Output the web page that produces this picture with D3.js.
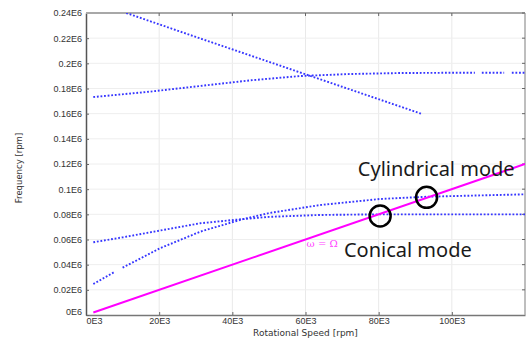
<!DOCTYPE html>
<html>
<head>
<meta charset="utf-8">
<script src="https://cdn.jsdelivr.net/npm/d3@7"></script>
<style>
  body { margin: 0; background: #fff; }
  svg { display: block; font-family: "DejaVu Sans", sans-serif; }
</style>
</head>
<body>
<svg id="chart" width="526" height="338"></svg>
<script>
// tick labels
var xTicks = [0, 20000, 40000, 60000, 80000, 100000];
var xTickLabels = ['0E3', '20E3', '40E3', '60E3', '80E3', '100E3'];
var yTicks = [0, 20000, 40000, 60000, 80000, 100000, 120000, 140000, 160000, 180000, 200000, 220000, 240000];
var yTickLabels = ['0E6', '0.02E6', '0.04E6', '0.06E6', '0.08E6', '0.1E6', '0.12E6', '0.14E6', '0.16E6', '0.18E6', '0.2E6', '0.22E6', '0.24E6'];

// whirl frequency branches (rpm vs rpm), null = gap in dotted curve
var modeAx = [11000, 30000, 50000, 70000, 91600];
var modeAy = [240000, 221000, 201200, 181400, 160000];

var modeBx = [2000, 17500, 31200, 45000, 58500, 72000, 86000, 100000, 106300, 107200, 108200, 114300, 115300, 116400, 120000];
var modeBy = [173200, 177500, 182000, 186500, 189900, 191500, 192300, 192500, 192500, null, 192500, 192500, null, 192500, 192500];

var modeCx = [2000, 10000, 20000, 31200, 42000, 50000, 64000, 80000, 100000, 120000];
var modeCy = [57800, 61700, 67000, 72900, 76000, 78000, 79500, 80000, 80000, 80000];

var modeDx = [2000, 7900, 9000, 10000, 20200, 31200, 42000, 50000, 64000, 80400, 93200, 120000];
var modeDy = [24600, 34400, null, 37600, 53000, 66200, 75500, 81000, 87400, 92200, 94000, 95900];

// omega = Omega line
var syncX = [2000, 120000];
var syncY = [2000, 120000];

// critical speed markers
var critX = [80400, 93100];
var critY = [78700, 93500];

var W = 526, H = 338;
var margin = {top: 13, right: 1, bottom: 23, left: 86};
var width = W - margin.left - margin.right;
var height = H - margin.top - margin.bottom;

var x = d3.scaleLinear().domain([0, 120000]).range([0, width]);
var y = d3.scaleLinear().domain([0, 240000]).range([height, 0]);

var svg = d3.select('#chart');
var g = svg.append('g').attr('transform', 'translate(' + margin.left + ',' + margin.top + ')');

g.append('clipPath').attr('id', 'clip')
  .append('rect').attr('width', width).attr('height', height);

// grid
g.append('g').selectAll('line').data(xTicks.slice(1)).join('line')
  .attr('x1', d => x(d)).attr('x2', d => x(d))
  .attr('y1', 0).attr('y2', height)
  .attr('stroke', '#e9e9e9');
g.append('g').selectAll('line').data(yTicks.slice(1)).join('line')
  .attr('x1', 0).attr('x2', width)
  .attr('y1', d => y(d)).attr('y2', d => y(d))
  .attr('stroke', '#eeeeee');

// axes
var xAxis = d3.axisBottom(x).tickValues(xTicks)
  .tickFormat((d, i) => xTickLabels[i]).tickSizeInner(-3).tickSizeOuter(0).tickPadding(3);
var gx = g.append('g').attr('transform', 'translate(0,' + height + ')').call(xAxis);
gx.select('.domain').attr('stroke', '#777').attr('stroke-width', 1.5);
gx.selectAll('.tick line').attr('stroke', '#666');
gx.selectAll('.tick text').attr('fill', '#333').attr('font-size', 9)
  .attr('text-anchor', (d, i) => i === 0 ? 'start' : 'middle');

var yAxis = d3.axisLeft(y).tickValues(yTicks)
  .tickFormat((d, i) => yTickLabels[i]).tickSizeInner(-3).tickSizeOuter(0).tickPadding(4);
var gy = g.append('g').call(yAxis);
gy.select('.domain').attr('stroke', '#555').attr('stroke-width', 1.5);
gy.selectAll('.tick line').attr('stroke', '#666');
gy.selectAll('.tick text').attr('fill', '#333').attr('font-size', 9)
  .attr('dy', (d, i) => i === 0 ? '-0.05em' : '0.32em');

// top and right frame with inward ticks
g.append('line').attr('x1', 0).attr('x2', width).attr('y1', 0).attr('y2', 0)
  .attr('stroke', '#a8a8a8').attr('stroke-width', 2);
g.append('line').attr('x1', width).attr('x2', width).attr('y1', 0).attr('y2', height)
  .attr('stroke', '#a8a8a8').attr('stroke-width', 1.5);
g.append('g').selectAll('line').data(xTicks.slice(1)).join('line')
  .attr('x1', d => x(d)).attr('x2', d => x(d)).attr('y1', 0).attr('y2', 3)
  .attr('stroke', '#666');
g.append('g').selectAll('line').data(yTicks.slice(1)).join('line')
  .attr('x1', width - 3).attr('x2', width).attr('y1', d => y(d)).attr('y2', d => y(d))
  .attr('stroke', '#666');

// axis titles
svg.append('text')
  .attr('x', margin.left + x(60000)).attr('y', 336)
  .attr('text-anchor', 'middle').attr('font-size', 9).attr('fill', '#333')
  .text('Rotational Speed [rpm]');
svg.append('text')
  .attr('transform', 'translate(22,168) rotate(-90)')
  .attr('text-anchor', 'middle').attr('font-size', 8.5).attr('fill', '#333')
  .text('Frequency [rpm]');

var line = d3.line()
  .defined(d => d[1] !== null)
  .x(d => x(d[0]))
  .y(d => y(d[1]));

var plot = g.append('g').attr('clip-path', 'url(#clip)');

var modes = [[modeAx, modeAy], [modeBx, modeBy], [modeCx, modeCy], [modeDx, modeDy]];
modes.forEach(function(m) {
  var pts = m[0].map((v, i) => [v, m[1][i]]);
  plot.append('path').datum(pts)
    .attr('d', line)
    .attr('fill', 'none')
    .attr('stroke', '#3636ff')
    .attr('stroke-width', 1.9)
    .attr('stroke-dasharray', '1.8,1.8');
});

plot.append('path').datum(syncX.map((v, i) => [v, syncY[i]]))
  .attr('d', line)
  .attr('fill', 'none')
  .attr('stroke', '#ff00ff')
  .attr('stroke-width', 2);

g.append('g').selectAll('circle').data(critX).join('circle')
  .attr('cx', d => x(d))
  .attr('cy', (d, i) => y(critY[i]))
  .attr('r', 10.5)
  .attr('fill', 'none')
  .attr('stroke', '#000')
  .attr('stroke-width', 2.5);

// annotations
g.append('text')
  .attr('x', x(60300)).attr('y', y(54000))
  .attr('font-family', '"DejaVu Serif", serif').attr('font-size', 10)
  .attr('fill', '#ff44ff')
  .text('\u03c9 = \u03a9');

g.append('text')
  .attr('x', x(74300)).attr('y', y(110500))
  .attr('font-family', '"Noto Sans", sans-serif').attr('font-size', 20)
  .attr('fill', '#1a1a1a')
  .text('Cylindrical mode');

g.append('text')
  .attr('x', x(70500)).attr('y', y(46300))
  .attr('font-family', '"Noto Sans", sans-serif').attr('font-size', 20)
  .attr('fill', '#1a1a1a')
  .text('Conical mode');
</script>
</body>
</html>
